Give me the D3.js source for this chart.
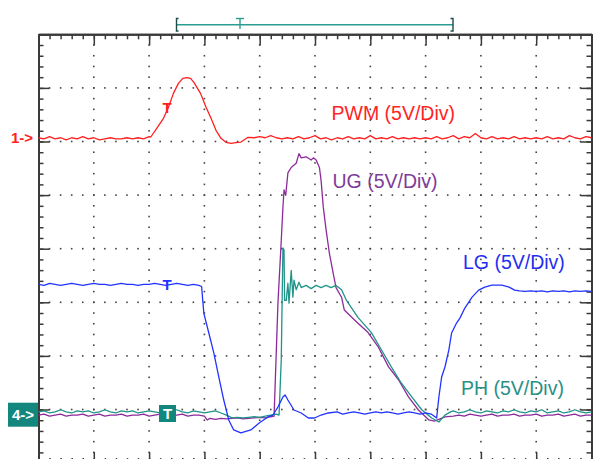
<!DOCTYPE html>
<html><head><meta charset="utf-8">
<script src="https://cdn.jsdelivr.net/npm/d3@7"></script>
<style>html,body{margin:0;padding:0;background:#fff;} svg{display:block;}</style>
</head><body><svg id="c" width="598" height="459"></svg>
<script>
// ---- data: time in divisions (0..10), value in volts (5 V/div) ----
const pwm = [
[0.00,0.1],[0.1,0.0],[0.2,0.2],[0.3,0.0],[0.4,0.1],[0.5,-0.1],[0.6,0.1],[0.7,0.0],[0.8,0.2],[0.9,0.0],[1.0,0.1],[1.1,-0.1],[1.2,0.0],[1.3,0.1],[1.4,0.0],[1.5,0.0],[1.6,0.1],[1.7,0.0],[1.8,0.1],[1.9,0.0],[2.0,0.2],
[2.03,0.17],[2.15,1.07],[2.26,1.91],[2.35,2.94],[2.44,4.24],[2.53,5.17],[2.61,5.64],[2.68,5.7],[2.75,5.64],[2.81,5.27],[2.93,4.24],[3.03,2.94],[3.12,1.91],[3.21,0.79],[3.30,0.05],[3.39,-0.33],[3.48,-0.42],[3.57,-0.35],[3.66,-0.3],[3.79,0.14],
[3.9,0.1],[4.0,0.2],[4.1,0.1],[4.2,0.3],[4.3,0.1],[4.4,0.0],[4.5,0.1],[4.6,0.0],[4.7,0.2],[4.8,0.0],[4.9,0.1],[5.0,0.3],[5.1,0.0],[5.2,0.1],[5.3,-0.1],[5.4,0.1],[5.5,0.0],[5.6,0.2],[5.7,0.0],[5.8,0.1],[5.9,0.0],[6.0,0.3],[6.1,0.0],[6.2,0.1],[6.3,0.0],[6.4,0.2],[6.5,0.0],[6.6,0.1],[6.7,0.0],[6.8,0.1],[6.9,0.0],[7.0,0.1],[7.1,0.0],[7.2,0.2],[7.3,0.0],[7.4,0.1],[7.5,0.3],[7.6,0.0],[7.7,0.2],[7.8,0.1],[7.9,0.5],[8.0,0.1],[8.1,0.0],[8.2,0.2],[8.3,0.0],[8.4,0.1],[8.5,0.0],[8.6,0.2],[8.7,0.0],[8.8,0.1],[8.9,0.0],[9.0,0.1],[9.1,0.0],[9.2,0.2],[9.3,0.0],[9.4,0.1],[9.5,0.0],[9.6,0.3],[9.7,0.1],[9.8,0.0],[9.9,0.2],[10.0,0.1]
];
const ug = [
[0.0,-0.2],[0.1,-0.1],[0.2,-0.3],[0.3,-0.2],[0.4,-0.1],[0.5,-0.3],[0.6,-0.2],[0.7,-0.2],[0.8,-0.1],[0.9,-0.3],[1.0,-0.2],[1.1,-0.1],[1.2,-0.3],[1.3,-0.2],[1.4,-0.2],[1.5,-0.1],[1.6,-0.3],[1.7,-0.2],[1.8,-0.2],[1.9,-0.1],[2.0,-0.3],[2.1,-0.2],[2.2,-0.1],[2.3,-0.2],[2.4,-0.3],[2.5,-0.2],[2.6,-0.1],[2.7,-0.3],[2.8,-0.2],[2.9,-0.2],[3.0,-0.3],[3.05,-0.65],[3.1,-0.5],[3.2,-0.6],[3.3,-0.5],[3.4,-0.55],[3.5,-0.5],[3.6,-0.45],[3.7,-0.55],[3.8,-0.5],[3.9,-0.45],[4.0,-0.4],[4.1,-0.45],[4.2,-0.35],[4.26,-0.3],
[4.33,10.25],[4.39,16.1],[4.42,19.2],[4.44,20.8],[4.47,20.3],[4.51,22.4],[4.57,22.9],[4.66,23.3],[4.71,24.2],[4.75,23.8],[4.84,23.9],[4.93,23.6],[4.97,23.8],[5.02,23.6],[5.08,22.9],[5.11,21.7],[5.15,19.2],[5.20,17.1],[5.26,14.9],[5.33,13.0],[5.38,11.7],[5.48,10.8],[5.53,9.6],[5.71,8.7],[5.96,7.5],[6.14,6.2],[6.33,4.3],[6.51,3.1],[6.69,1.5],[6.87,0.28],[7.06,-0.65],[7.16,-0.75],[7.35,-0.37],
[7.5,-0.3],[7.6,-0.2],[7.7,-0.3],[7.8,-0.1],[7.9,-0.2],[8.0,-0.3],[8.1,-0.2],[8.2,-0.1],[8.3,-0.3],[8.4,-0.2],[8.5,-0.2],[8.6,-0.1],[8.7,-0.3],[8.8,-0.2],[8.9,-0.2],[9.0,-0.1],[9.1,-0.3],[9.2,-0.2],[9.3,-0.2],[9.4,-0.1],[9.5,-0.3],[9.6,-0.2],[9.7,-0.1],[9.8,-0.3],[9.9,-0.2],[10.0,-0.2]
];
const ph = [
[0.0,0.1],[0.1,0.2],[0.2,0.0],[0.3,0.1],[0.4,0.3],[0.5,0.1],[0.6,0.0],[0.7,0.2],[0.8,0.1],[0.9,0.2],[1.0,0.0],[1.1,0.1],[1.2,0.3],[1.3,0.1],[1.4,0.0],[1.5,0.2],[1.6,0.1],[1.7,0.2],[1.8,0.0],[1.9,0.1],[2.0,0.2],[2.1,0.1],[2.2,0.0],[2.3,0.2],[2.4,0.1],[2.5,0.3],[2.6,0.1],[2.7,0.0],[2.8,0.2],[2.9,0.1],[3.0,0.0],[3.1,0.1],[3.2,0.2],[3.3,0.0],[3.4,-0.2],[3.5,-0.45],[3.6,-0.4],[3.7,-0.45],[3.8,-0.4],[3.9,-0.35],[4.0,-0.4],[4.1,-0.3],[4.2,-0.2],[4.3,-0.1],[4.35,-0.2],
[4.39,5.0],[4.42,15.4],[4.44,15.2],[4.45,10.5],[4.48,10.5],[4.51,12.1],[4.53,10.25],[4.57,13.3],[4.60,10.8],[4.62,12.4],[4.66,11.5],[4.71,12.2],[4.75,11.7],[4.84,11.9],[4.93,11.6],[5.02,11.9],[5.11,11.7],[5.20,11.9],[5.29,11.7],[5.38,11.9],[5.48,11.5],[5.57,10.5],[5.66,9.8],[5.78,8.9],[6.02,7.5],[6.20,5.9],[6.38,4.3],[6.56,2.8],[6.75,1.5],[6.93,0.3],[7.11,-0.47],[7.24,-0.84],[7.35,-0.2],
[7.45,0.1],[7.5,0.2],[7.6,0.0],[7.7,0.1],[7.8,0.3],[7.9,0.1],[8.0,0.0],[8.1,0.2],[8.2,0.1],[8.3,0.0],[8.4,0.2],[8.5,0.1],[8.6,0.3],[8.7,0.1],[8.8,0.0],[8.9,0.2],[9.0,0.1],[9.1,0.3],[9.2,0.0],[9.3,0.1],[9.4,0.2],[9.5,0.0],[9.6,0.1],[9.7,0.3],[9.8,0.1],[9.9,0.0],[10.0,0.1]
];
const lg = [
[0.0,12.0],[0.1,11.9],[0.2,12.1],[0.3,12.0],[0.4,11.9],[0.5,12.0],[0.6,12.1],[0.7,12.0],[0.8,11.9],[0.9,12.0],[1.0,12.1],[1.1,12.0],[1.2,12.0],[1.3,11.9],[1.4,12.0],[1.5,12.1],[1.6,12.0],[1.7,12.0],[1.8,11.9],[1.9,12.0],[2.0,12.0],[2.1,12.1],[2.2,12.0],[2.3,11.9],[2.4,12.0],[2.5,12.1],[2.6,12.0],[2.7,11.9],[2.8,12.0],[2.9,11.9],[2.95,11.8],
[2.97,10.5],[2.99,9.3],[3.08,7.46],[3.17,5.6],[3.26,3.36],[3.35,1.21],[3.44,-0.65],[3.53,-1.58],[3.66,-1.86],[3.84,-1.58],[3.99,-0.93],[4.15,-0.37],[4.24,-0.19],[4.33,0.56],[4.42,1.49],[4.46,1.68],[4.51,1.21],[4.62,0.28],[4.75,0.0],[4.88,-0.47],[4.99,-0.47],[5.11,-0.19],[5.24,0.0],
[5.4,0.1],[5.5,-0.1],[5.6,0.0],[5.7,0.1],[5.8,0.0],[5.9,-0.1],[6.0,0.0],[6.1,0.1],[6.2,0.0],[6.3,0.1],[6.4,0.0],[6.5,-0.1],[6.6,0.0],[6.7,0.1],[6.8,0.0],[6.9,-0.1],[7.0,0.0],[7.1,-0.1],[7.2,-0.47],[7.24,1.49],[7.29,3.36],[7.35,4.29],[7.42,5.87],[7.47,7.46],[7.56,8.39],[7.62,8.85],[7.71,9.79],[7.84,10.81],[7.96,11.46],[8.07,11.74],[8.20,11.93],[8.38,11.93],[8.51,11.74],[8.61,11.46],
[8.7,11.4],[8.8,11.35],[8.9,11.4],[9.0,11.35],[9.1,11.4],[9.2,11.3],[9.3,11.4],[9.4,11.35],[9.5,11.4],[9.6,11.3],[9.7,11.4],[9.8,11.35],[9.9,11.4],[10.0,11.35]
];
const labels = ["PWM (5V/Div)", "UG (5V/Div)", "LG (5V/Div)", "PH (5V/Div)"];
const chOffsetDiv = [2.05, -3.065];   // ground positions (div from centre) for ch1 and ch2-4
const voltsPerDiv = 5;

// ---- chart ----
const svg = d3.select("#c");
svg.append("rect").attr("width",598).attr("height",459).attr("fill","#fff");
const x = d3.scaleLinear().domain([0,10]).range([38.5,591.5]);
const y = d3.scaleLinear().domain([-4,4]).range([463.1,34.3]);
const minorX = d3.range(0,51).map(i=>i/5);
const majorX = d3.range(0,11);
const minorY = d3.range(-20,21).map(i=>i/5);
const majorY = d3.range(-4,5);
const frameCol = "#3a3a3a";

// grid dots
const g = svg.append("g");
majorX.slice(1,-1).forEach(mx=>{
  g.selectAll(null).data(minorY.slice(1,-1)).enter().append("rect")
    .attr("x",x(mx)-0.8).attr("y",d=>y(d)-0.8).attr("width",1.6).attr("height",1.6).attr("fill","#444");
});
majorY.slice(1,-1).forEach(my=>{
  g.selectAll(null).data(minorX.slice(1,-1)).enter().append("rect")
    .attr("x",d=>x(d)-0.8).attr("y",y(my)-0.8).attr("width",1.6).attr("height",1.6).attr("fill","#444");
});

function styleAxis(sel){
  sel.selectAll(".domain").attr("stroke",frameCol).attr("stroke-width",2);
  sel.selectAll(".tick line").attr("stroke",frameCol).attr("stroke-width",1.5);
  sel.selectAll("text").remove();
}
function addAxis(axisFn, scale, tr, vals, size){
  const a = svg.append("g").attr("transform",tr)
    .call(axisFn(scale).tickValues(vals).tickSize(size).tickSizeOuter(0).tickFormat(""));
  styleAxis(a);
}
[[minorX,5],[majorX,11]].forEach(([v,s])=>{
  addAxis(d3.axisBottom, x, "translate(0,34.3)", v, s);
  addAxis(d3.axisTop, x, "translate(0,463.1)", v, s);
});
[[minorY,5],[majorY,11]].forEach(([v,s])=>{
  addAxis(d3.axisRight, y, "translate(38.5,0)", v, s);
  addAxis(d3.axisLeft, y, "translate(591.5,0)", v, s);
});

// traces
function lineFor(off){
  return d3.line().x(d=>x(d[0])).y(d=>y(off + d[1]/voltsPerDiv));
}
const traces = [
  {data:ug, off:chOffsetDiv[1], col:"#8e2a9c"},
  {data:ph, off:chOffsetDiv[1], col:"#1f9488"},
  {data:lg, off:chOffsetDiv[1], col:"#2233ff"},
  {data:pwm, off:chOffsetDiv[0], col:"#ff1f1f"}
];
traces.forEach(t=>{
  svg.append("path").datum(t.data).attr("d",lineFor(t.off)).attr("fill","none")
    .attr("stroke",t.col).attr("stroke-width",1.3).attr("stroke-linejoin","round");
});

// labels
const font = "'Liberation Sans', Arial, sans-serif";
const labPos = [[331.5,120,"#ff2424"],[332.5,187.5,"#7d3c98"],[463,268.5,"#1f2ef0"],[461,395,"#2a8f86"]];
labels.forEach((l,i)=>{
  svg.append("text").attr("x",labPos[i][0]).attr("y",labPos[i][1]).attr("fill",labPos[i][2])
    .attr("font-family",font).attr("font-size",19.5).text(l);
});

// channel markers
svg.append("text").attr("x",11).attr("y",143).attr("fill","#ff2020").attr("font-family",font)
  .attr("font-weight","bold").attr("font-size",15).text("1->");
svg.append("rect").attr("x",8).attr("y",402.7).attr("width",30).attr("height",24).attr("fill","#13877d");
svg.append("text").attr("x",12).attr("y",419.5).attr("fill","#fff").attr("font-family",font)
  .attr("font-weight","bold").attr("font-size",15).text("4->");
// trigger markers
svg.append("rect").attr("x",159).attr("y",405).attr("width",17).attr("height",17).attr("fill","#13877d");
svg.append("text").attr("x",167.5).attr("y",419).attr("text-anchor","middle").attr("fill","#fff")
  .attr("font-family",font).attr("font-weight","bold").attr("font-size",15).text("T");
svg.append("text").attr("x",167).attr("y",112.5).attr("text-anchor","middle").attr("fill","#ff1f1f")
  .attr("font-family",font).attr("font-weight","bold").attr("font-size",15).text("T");
svg.append("text").attr("x",167).attr("y",289.5).attr("text-anchor","middle").attr("fill","#2233ff")
  .attr("font-family",font).attr("font-weight","bold").attr("font-size",15).text("T");

// top bracket
const bc = "#2a9d90";
svg.append("line").attr("x1",176).attr("x2",453).attr("y1",24.7).attr("y2",24.7).attr("stroke",bc).attr("stroke-width",1.6);
svg.append("path").attr("d","M178.5,18.5H176.5V31H178.5").attr("fill","none").attr("stroke","#1d4d48").attr("stroke-width",1.4);
svg.append("path").attr("d","M450.5,18.5H453V31H450.5").attr("fill","none").attr("stroke","#1d4d48").attr("stroke-width",1.4);
svg.append("line").attr("x1",240).attr("x2",240).attr("y1",18.5).attr("y2",29).attr("stroke",bc).attr("stroke-width",1.4);
svg.append("line").attr("x1",236).attr("x2",244).attr("y1",18.5).attr("y2",18.5).attr("stroke",bc).attr("stroke-width",1.4);
</script></body></html>
